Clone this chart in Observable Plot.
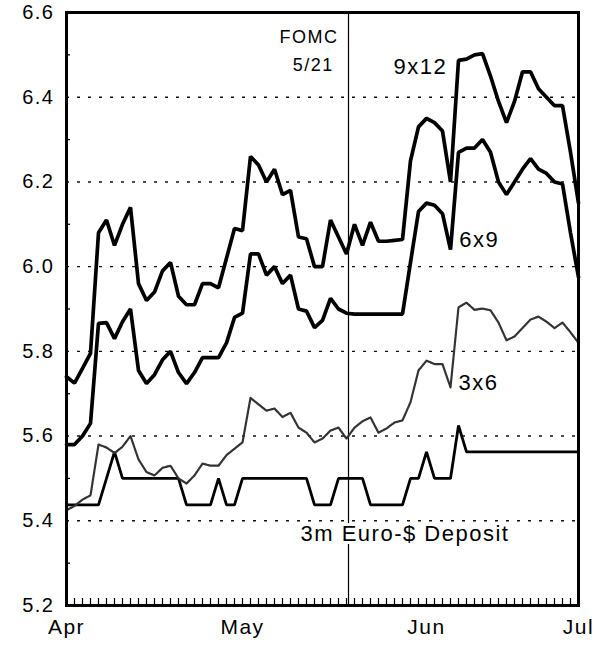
<!DOCTYPE html>
<html><head><meta charset="utf-8">
<script src="https://cdn.jsdelivr.net/npm/d3@7"></script>
<script src="https://cdn.jsdelivr.net/npm/@observablehq/plot@0.6"></script>
<style>
body{margin:0;background:#fff;}
#chart svg text{letter-spacing:1.5px;}
</style>
</head><body><div id="chart"></div>
<script>
// trading-day index (0 = start of April, 64 = July 1)
const days = d3.range(65);

const s9x12 = [5.74,5.725,5.76,5.795,6.08,6.11,6.05,6.10,6.14,5.96,
  5.92,5.94,5.99,6.01,5.93,5.91,5.91,5.96,5.96,5.95,
  6.02,6.09,6.085,6.26,6.24,6.20,6.23,6.17,6.18,6.07,
  6.066,6.00,6.00,6.11,6.07,6.03,6.10,6.05,6.105,6.06,
  6.06,6.062,6.064,6.25,6.33,6.35,6.34,6.32,6.20,6.487,
  6.49,6.50,6.503,6.45,6.39,6.34,6.39,6.46,6.46,6.42,
  6.40,6.38,6.38,6.27,6.15];

const s6x9 = [5.58,5.58,5.60,5.63,5.866,5.868,5.83,5.87,5.90,5.755,
  5.724,5.745,5.78,5.80,5.75,5.724,5.75,5.785,5.785,5.785,
  5.82,5.88,5.89,6.03,6.03,5.98,6.00,5.96,5.98,5.90,
  5.895,5.856,5.873,5.925,5.90,5.89,5.888,5.888,5.888,5.888,
  5.888,5.888,5.888,6.01,6.13,6.15,6.145,6.125,6.04,6.27,
  6.28,6.28,6.30,6.27,6.20,6.17,6.20,6.23,6.255,6.23,
  6.22,6.20,6.195,6.08,5.975];

const s3x6 = [5.425,5.435,5.45,5.46,5.58,5.573,5.56,5.575,5.60,5.545,
  5.515,5.507,5.525,5.53,5.50,5.488,5.507,5.535,5.53,5.53,
  5.555,5.57,5.585,5.69,5.675,5.66,5.665,5.645,5.655,5.62,
  5.608,5.585,5.594,5.613,5.62,5.594,5.62,5.635,5.644,5.608,
  5.618,5.632,5.637,5.68,5.755,5.778,5.77,5.77,5.715,5.904,
  5.915,5.898,5.901,5.897,5.868,5.826,5.835,5.855,5.875,5.882,
  5.87,5.855,5.868,5.845,5.82];

const deposit = [5.4375,5.4375,5.4375,5.4375,5.4375,5.5,5.5625,5.5,5.5,5.5,
  5.5,5.5,5.5,5.5,5.5,5.4375,5.4375,5.4375,5.4375,5.5,
  5.4375,5.4375,5.5,5.5,5.5,5.5,5.5,5.5,5.5,5.5,
  5.5,5.4375,5.4375,5.4375,5.5,5.5,5.5,5.5,5.4375,5.4375,
  5.4375,5.4375,5.4375,5.5,5.5,5.5625,5.5,5.5,5.5,5.625,
  5.5625,5.5625,5.5625,5.5625,5.5625,5.5625,5.5625,5.5625,5.5625,5.5625,
  5.5625,5.5625,5.5625,5.5625,5.5625];

const majorY = [5.2,5.4,5.6,5.8,6.0,6.2,6.4,6.6];
const gridY = [5.4,5.6,5.8,6.0,6.2,6.4];
const minorY = [5.3,5.5,5.7,5.9,6.1,6.3,6.5];
const monthIdx = [0,22,45,64];
const monthLabels = ["Apr","May","Jun","Jul"];
const fomcIdx = 35.25;

const endLabels = [{text:"9x12", x:47.6, y:6.471}];
const startLabels = [
  {text:"6x9", x:49.1, y:6.062},
  {text:"3x6", x:49.0, y:5.726}
];
const depositLabel = [{text:"3m Euro-$ Deposit", x:29.25, y:5.368}];
const fomcLabels = [
  {text:"FOMC", x:34.0, y:6.541},
  {text:"5/21", x:33.4, y:6.475}
];

const rows = s => days.map(i => ({i, v: s[i]}));

const chart = Plot.plot({
  width: 609, height: 645,
  marginLeft: 66, marginRight: 31, marginTop: 12, marginBottom: 40,
  x: {domain: [0, 64], axis: null},
  y: {domain: [5.2, 6.6], axis: null},
  style: {fontFamily: "'Liberation Sans', Arial, sans-serif", fontSize: "19px", color: "#000", background: "#fff"},
  marks: [
    Plot.ruleY(gridY, {strokeDasharray: "3,8", strokeWidth: 1.4, stroke: "#111"}),
    Plot.axisY({ticks: majorY, tickSize: 0, tickPadding: 12, tickFormat: d3.format(".1f"), fontSize: 20}),
    Plot.axisY({ticks: minorY, tickSize: 4, dx: 4, text: null, strokeWidth: 1.3}),
    Plot.axisX({ticks: days, tickSize: 7, dy: -7, text: null, strokeWidth: 1.2}),
    Plot.axisX({ticks: monthIdx, tickSize: 0, tickPadding: 14, fontSize: 21,
      tickFormat: d => monthLabels[monthIdx.indexOf(d)]}),
    Plot.ruleX([fomcIdx], {strokeWidth: 1.2}),
    Plot.line(rows(deposit), {x: "i", y: "v", stroke: "#000", strokeWidth: 2.8, strokeLinejoin: "miter"}),
    Plot.line(rows(s3x6), {x: "i", y: "v", stroke: "#333", strokeWidth: 2.2, strokeDasharray: "1.6,0.8"}),
    Plot.line(rows(s6x9), {x: "i", y: "v", stroke: "#000", strokeWidth: 3.7, strokeLinejoin: "miter"}),
    Plot.line(rows(s9x12), {x: "i", y: "v", stroke: "#000", strokeWidth: 3.7, strokeLinejoin: "miter"}),
    Plot.text(endLabels, {x: "x", y: "y", text: "text", textAnchor: "end", fontSize: 22, fill: "#000"}),
    Plot.text(startLabels, {x: "x", y: "y", text: "text", textAnchor: "start", fontSize: 22, fill: "#000"}),
    Plot.text(depositLabel, {x: "x", y: "y", text: "text", textAnchor: "start", fontSize: 22, fill: "#000", stroke: "#fff", strokeWidth: 6}),
    Plot.text(fomcLabels, {x: "x", y: "y", text: "text", textAnchor: "end", fontSize: 18, fill: "#000"}),
    Plot.frame({strokeWidth: 3})
  ]
});
document.getElementById("chart").appendChild(chart);
</script>
</body></html>
